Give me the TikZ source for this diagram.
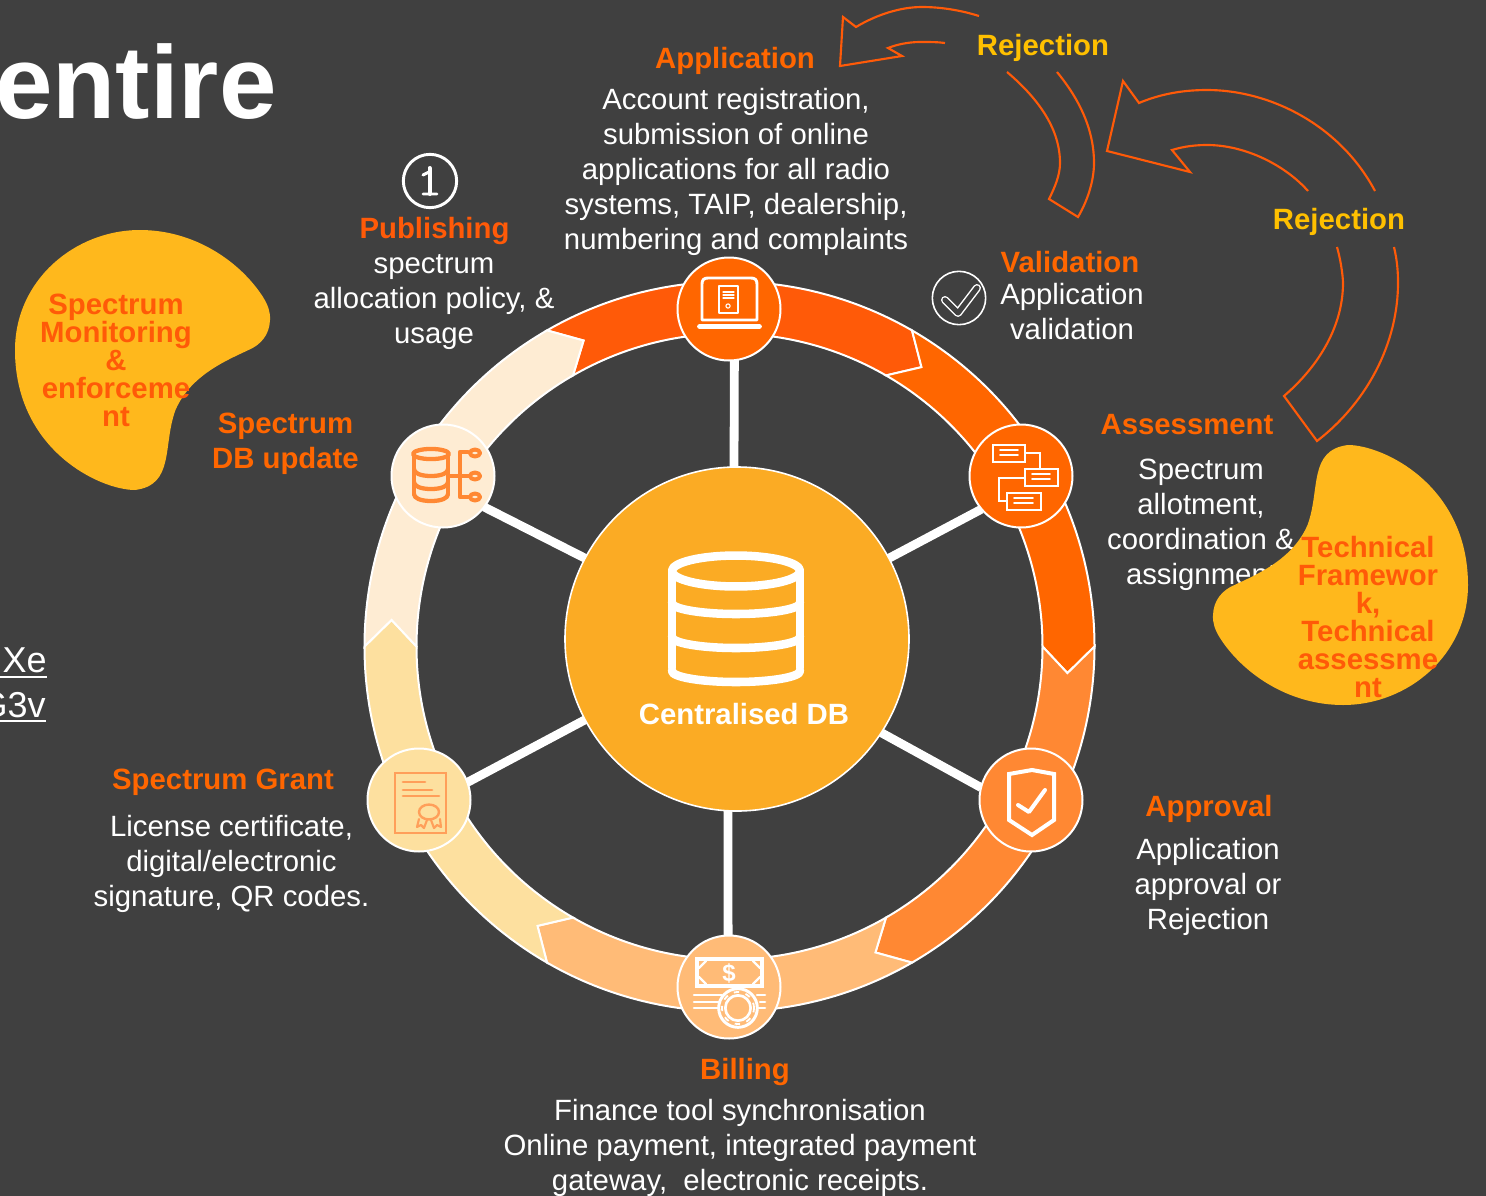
\documentclass[tikz,border=0pt]{standalone}
\usepackage{fontspec}
\setmainfont{Liberation Sans}
\definecolor{bgc}{HTML}{404040}
\definecolor{redor}{HTML}{FF5A08}
\definecolor{oran}{HTML}{FF6600}
\definecolor{midor}{HTML}{FF8833}
\definecolor{pale}{HTML}{FFBB77}
\definecolor{sand}{HTML}{FDE09F}
\definecolor{cream}{HTML}{FEECD3}
\definecolor{dbfill}{HTML}{FBAB24}
\definecolor{blobc}{HTML}{FFB81C}
\definecolor{rejc}{HTML}{FFC000}
\definecolor{certc}{HTML}{FF9F5A}
\newcommand\ringpt[2]{({729.5+#2*cos(#1)},{646.5-#2*sin(#1)})}
% colour, start angle, end angle (clockwise): chevron with a notch at its start, a point at its end
\newcommand\ringseg[3]{%
  \filldraw[fill=#1,ringedge] \ringpt{#2}{365} arc[start angle=#2,end angle=#3,radius=273.75pt]
    -- \ringpt{#3-4.5}{339} -- \ringpt{#3}{313}
    arc[start angle=#3,end angle=#2,radius=234.75pt]
    -- \ringpt{#2-4.5}{339} -- cycle;}
\newcommand\blobpath{(-2.5,-130) .. controls (52.5,-130) and (98,-98) .. (120.5,-63)
  .. controls (125.5,-55) and (128,-48) .. (127.5,-40)
  .. controls (127,-25) and (118,-15) .. (106,-10)
  .. controls (85,0) and (48,15) .. (33,50)
  .. controls (20,85) and (32.5,125) .. (-7.5,130)
  .. controls (-42.5,130) and (-127.5,90) .. (-127.5,-10)
  .. controls (-127.5,-80) and (-67.5,-130) .. cycle}
\newcommand\dbband[1]{(672,#1) .. controls (672,{#1+6}) and (701,{#1+11}) .. (736,{#1+11}) .. controls (771,{#1+11}) and (800,{#1+6}) .. (800,#1)}
\tikzset{
  x=0.75pt,y=-0.75pt,
  ringedge/.style={draw=white,line width=1.5pt,line join=miter},
  ringnode/.style={circle,draw=white,line width=1.5pt,minimum size=77.25pt,inner sep=0pt,outer sep=0pt},
  spoke/.style={draw=white,line width=6.6pt},
  bodytext/.style={text=white,inner sep=0pt,align=center,font=\fontsize{22}{26.25}\selectfont},
  headtext/.style={text=oran,inner sep=0pt,align=center,font=\fontsize{22}{26.25}\selectfont\bfseries},
  rejtext/.style={text=rejc,inner sep=0pt,font=\fontsize{22}{26.25}\selectfont\bfseries},
  blobtext/.style={text=redor,inner sep=0pt,align=center,font=\fontsize{22}{21}\selectfont\bfseries},
  rejarrow/.style={draw=redor,line width=1.6pt,line join=miter,fill=none},
  iconw/.style={draw=white,line width=2.2pt,line cap=round,line join=round,fill=none},
  iconthin/.style={draw=white,line width=1.2pt,line cap=round,fill=none},
  linkline/.style={draw=white,line width=2pt},
}
\begin{document}
\begin{tikzpicture}
\fill[bgc] (0,0) rectangle (1486,1196);
\useasboundingbox (0,0) rectangle (1486,1196);

% cut-off slide content on the left
\node[text=white,inner sep=0pt,anchor=base west,font=\fontsize{77.5}{80}\selectfont\bfseries] (title) at (-5,118) {entire};
\node[text=white,inner sep=0pt,anchor=base east,font=\fontsize{27}{30}\selectfont] (linka) at (47,672) {Xe};
\node[text=white,inner sep=0pt,anchor=base east,font=\fontsize{27}{30}\selectfont] (linkb) at (46,717) {G3v};
\draw[linkline] (0,677) -- (47,677);
\draw[linkline] (0,721) -- (46,721);

% ring
\ringseg{redor}{120}{60}
\ringseg{oran}{60}{0}
\ringseg{midor}{0}{-60}
\ringseg{pale}{-60}{-120}
\ringseg{sand}{-120}{-180}
\ringseg{cream}{180}{120}

% nodes
\node[circle,draw=white,line width=1.2pt,fill=dbfill,minimum size=258pt,inner sep=0pt,outer sep=0pt] (db) at (737,639) {};
\node[ringnode,fill=oran]  (napp)  at (729,309) {};
\node[ringnode,fill=oran]  (nass)  at (1021,476) {};
\node[ringnode,fill=midor] (nappr) at (1031,800) {};
\node[ringnode,fill=pale]  (nbill) at (729,987) {};
\node[ringnode,fill=sand]  (ngrant) at (419,800) {};
\node[ringnode,fill=cream] (nupd)  at (443,476) {};

% spokes
\draw[spoke] (napp.-84.4) -- (db.91.7);
\draw[spoke] (nass.220.7) -- (db.28.8);
\draw[spoke] (nappr.166) -- (db.-33.3);
\draw[spoke] (nbill.91) -- (db.-93);
\draw[spoke] (ngrant.20) -- (db.208.6);
\draw[spoke] (nupd.-37) -- (db.152.8);

% big database icon
\begin{scope}[draw=white,line width=6.4pt,line cap=round,line join=round]
  \draw (736,571) ellipse [x radius=48pt,y radius=11.6pt];
  \draw (672,571) -- (672,668) (800,571) -- (800,668);
  \draw \dbband{603};
  \draw \dbband{637};
  \draw \dbband{671};
\end{scope}
\node[text=white,inner sep=0pt,font=\fontsize{22}{26}\selectfont\bfseries] (dblabel) at (744,714) {Centralised DB};

% laptop icon
\draw[iconw] (702,320) -- (702,284) .. controls (702,280) and (704,278) .. (708,278) -- (751,278) .. controls (755,278) and (757,280) .. (757,284) -- (757,320) -- cycle;
\draw[iconw,line width=4.4pt] (700,326.5) -- (759,326.5);
\draw[iconw,line width=1pt] (719,286) rectangle (738,313);
\draw[iconthin,line width=.8pt] (723,292) -- (734,292) (723,295) -- (734,295) (723,298) -- (734,298);
\draw[iconthin,line width=.8pt] (728,306) circle[radius=1.6pt];

% assessment icon
\begin{scope}[iconw,line cap=butt,line join=miter]
  \draw (993,445) rectangle (1025,462);
  \draw (1025,469) rectangle (1058,486);
  \draw (1007,493) rectangle (1041,510);
  \draw (1025,453) -- (1040,453) -- (1040,469);
  \draw (1025,478) -- (999,478) -- (999,501) -- (1007,501);
\end{scope}
\draw[iconthin] (1000,450) -- (1018,450) (1000,455) -- (1018,455)
  (1032,474) -- (1050,474) (1032,479) -- (1050,479)
  (1014,498) -- (1033,498) (1014,503) -- (1033,503);

% approval shield
\draw[iconw,line width=3pt,line join=miter] (1032,770) -- (1054,774) -- (1054,820) -- (1032,835) -- (1009,820) -- (1009,774) -- cycle;
\draw[iconw,line width=3pt] (1018,805) -- (1029,812) -- (1045,790);

% billing icon
\draw[iconw,line width=2.6pt,line join=miter] (697,959) rectangle (762,986);
\draw[iconw,line width=1.8pt] (699,968) -- (706,961) (753,961) -- (760,968) (699,977) -- (706,984) (753,984) -- (760,977);
\node[text=white,inner sep=0pt,font=\fontsize{18}{18}\selectfont\bfseries] (dollar) at (729,973) {\$};
\draw[iconw,line width=2pt] (694,995) -- (722,995) (694,1002) -- (720,1002) (694,1008) -- (718,1008)
  (757,995) -- (765,995) (760,1002) -- (765,1002) (759,1008) -- (765,1008);
\draw[iconw,line width=2.2pt,fill=pale] (738,1008) circle[radius=14.5pt];
\draw[iconw,line width=2pt] (738,1008) circle[radius=9.5pt];
\draw[iconw,line width=1.4pt,line cap=butt,dash pattern=on 4pt off 5pt] (738,1008) circle[radius=12pt];

% certificate icon
\begin{scope}[draw=certc,line width=2.2pt,line cap=round,line join=miter]
  \draw (395,773) rectangle (446,833);
  \draw (403,782) -- (425,782) (403,790) -- (432,790) (403,796) -- (439,796);
  \draw[line width=1.8pt] (429,812) ellipse [x radius=7.5pt,y radius=5.6pt];
  \draw[line width=1.6pt,line join=round] (419,819) -- (417,827) -- (421,825) -- (424,828) -- (427,820);
  \draw[line width=1.6pt,line join=round] (440,819) -- (441,827) -- (437,825) -- (434,828) -- (431,820);
\end{scope}

% database branch icon
\begin{scope}[draw=midor,line width=3.2pt,line cap=round,line join=round]
  \draw (431,454) ellipse [x radius=13.5pt,y radius=3.8pt];
  \draw (414,454) -- (414,494) (448,454) -- (448,494);
  \draw (414,469) .. controls (414,473) and (420,476) .. (431,476) .. controls (442,476) and (448,473) .. (448,469);
  \draw (414,482) .. controls (414,486) and (420,489) .. (431,489) .. controls (442,489) and (448,486) .. (448,482);
  \draw (414,494) .. controls (414,498) and (420,501) .. (431,501) .. controls (442,501) and (448,498) .. (448,494);
  \draw (448,476) -- (469,476);
  \draw (468,452) -- (460,452) -- (460,497) -- (468,497);
  \draw[line width=3pt] (475,453) ellipse [x radius=3.8pt,y radius=2.6pt];
  \draw[line width=3pt] (475,476) ellipse [x radius=3.8pt,y radius=2.6pt];
  \draw[line width=3pt] (475,497) ellipse [x radius=3.8pt,y radius=2.6pt];
\end{scope}

% info icon
\draw[iconw] (430,181) circle[radius=20pt];
\draw[white,line width=3pt,line cap=round] (429.5,168) -- (429.5,194);
\draw[white,line width=2.2pt,line cap=round] (423,175) -- (429,172) (423,194) -- (437,194);

% tick icon
\draw[draw=white,line width=1.2pt] (959,298) circle[radius=20pt];
\draw[white,line width=6pt,line cap=round,line join=round] (945,300) -- (958,313) -- (977,288);
\draw[bgc,line width=3.8pt,line cap=round,line join=round] (945,300) -- (958,313) -- (977,288);

% texts
\node[headtext] (happ) at (735,60.5) {Application};
\node[bodytext] (bapp) at (736,172) {Account registration,\\submission of online\\applications for all radio\\systems, TAIP, dealership,\\numbering and complaints};
\node[headtext,text=redor] (hpub) at (434.5,230.5) {Publishing};
\node[bodytext] (bpub) at (434,302) {spectrum\\allocation policy, \&\\usage};
\node[headtext] (hval) at (1070,262) {Validation};
\node[bodytext] (bval) at (1072,312) {Application\\validation};
\node[headtext] (hass) at (1187,425) {Assessment};
\node[bodytext] (bass) at (1201,524.5) {Spectrum\\allotment,\\coordination \&\\assignment};
\node[headtext] (happr) at (1209,809) {Approval};
\node[bodytext] (bappr) at (1208,887) {Application\\approval or\\Rejection};
\node[headtext] (hbill) at (745,1072) {Billing};
\node[bodytext] (bbill) at (740,1148) {Finance tool synchronisation\\Online payment, integrated payment\\gateway,\ \ electronic receipts.};
\node[headtext] (hgrant) at (223,782) {Spectrum Grant};
\node[bodytext] (bgrant) at (231.5,864) {License certificate,\\digital/electronic\\signature, QR codes.};
\node[headtext] (hupd) at (285.5,444) {Spectrum\\DB update};
\node[rejtext] (rej1) at (1043,48) {Rejection};
\node[rejtext] (rej2) at (1339,222) {Rejection};

% rejection arrows
\draw[rejarrow] (979,16) .. controls (960,10) and (940,7) .. (922,7) .. controls (900,7) and (876,15) .. (856,27)
  -- (843,17) -- (840,66) -- (902,56) -- (888,48)
  .. controls (898,44) and (910,42) .. (920,42) .. controls (930,42) and (938,42) .. (945,43);
\draw[rejarrow] (1007,72) .. controls (1040,100) and (1060,130) .. (1060,163) .. controls (1060,175) and (1055,187) .. (1049,199)
  -- (1078,217) .. controls (1088,200) and (1094,180) .. (1094,163) .. controls (1094,130) and (1080,100) .. (1057,72);
\draw[rejarrow] (1375,191) .. controls (1340,125) and (1270,90) .. (1207,90) .. controls (1180,90) and (1158,95) .. (1139,103)
  -- (1123,81) -- (1107,151) -- (1190,172) -- (1172,150)
  .. controls (1185,146) and (1197,145) .. (1207,145) .. controls (1245,145) and (1285,165) .. (1308,191);
\draw[rejarrow] (1337,247) .. controls (1342,265) and (1343,280) .. (1343,283) .. controls (1343,325) and (1320,365) .. (1284,396)
  -- (1317,441) .. controls (1370,400) and (1398,340) .. (1398,283) .. controls (1398,270) and (1397,260) .. (1394,247);

% blobs
\fill[blobc,shift={(142.5,360)}] \blobpath;
\fill[blobc,shift={(1340.5,575)},rotate=180] \blobpath;
\node[blobtext] (t1) at (116,360) {Spectrum\\Monitoring\\\&\\enforceme\\nt};
\node[blobtext] (t2) at (1368,617) {Technical\\Framewor\\k,\\Technical\\assessme\\nt};
\end{tikzpicture}
\end{document}
